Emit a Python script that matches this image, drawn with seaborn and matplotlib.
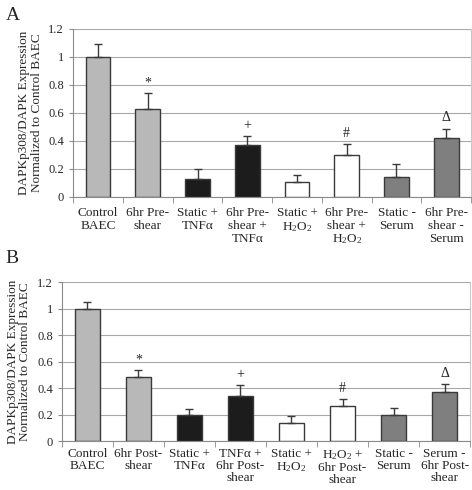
import numpy as np
import pandas as pd
import matplotlib
matplotlib.use("Agg")
import matplotlib.pyplot as plt
import seaborn as sns

# panel A data
labels_a = ["Control\nBAEC", "6hr Pre-\nshear", "Static +\nTNF\u03b1", "6hr Pre-\nshear +\nTNF\u03b1",
            "Static +\nH$_2$O$_2$", "6hr Pre-\nshear +\nH$_2$O$_2$", "Static -\nSerum", "6hr Pre-\nshear -\nSerum"]
values_a = [1.0, 0.63, 0.13, 0.37, 0.11, 0.30, 0.145, 0.42]
errors_a = [0.095, 0.11, 0.07, 0.065, 0.05, 0.077, 0.087, 0.068]
marks_a = ["", "*", "", "+", "", "#", "", "\u0394"]

# panel B data
labels_b = ["Control\nBAEC", "6hr Post-\nshear", "Static +\nTNF\u03b1", "TNF\u03b1 +\n6hr Post-\nshear",
            "Static +\nH$_2$O$_2$", "H$_2$O$_2$ +\n6hr Post-\nshear", "Static -\nSerum", "Serum -\n6hr Post-\nshear"]
values_b = [1.0, 0.48, 0.20, 0.343, 0.137, 0.268, 0.20, 0.368]
errors_b = [0.047, 0.054, 0.043, 0.077, 0.053, 0.052, 0.053, 0.062]
marks_b = ["", "*", "", "+", "", "#", "", "\u0394"]

bar_colors = ["#b8b8b8", "#b8b8b8", "#1c1c1c", "#1c1c1c", "#ffffff", "#ffffff", "#7f7f7f", "#7f7f7f"]

sns.set_style("white")
plt.rcParams['font.family'] = ['Liberation Serif', 'DejaVu Serif']
plt.rcParams['mathtext.fontset'] = 'custom'
plt.rcParams['mathtext.rm'] = 'Liberation Serif'
plt.rcParams['mathtext.default'] = 'regular'

fig = plt.figure(figsize=(4.72, 4.9), dpi=100)
ax_a = fig.add_axes([0.155, 0.598, 0.843, 0.343])
ax_b = fig.add_axes([0.131, 0.100, 0.865, 0.324])


def draw_panel(ax, labels, values, errors, marks, pad, spacing):
    df = pd.DataFrame({'cond': labels, 'val': values})
    sns.barplot(x='cond', y='val', data=df, hue='cond', palette=bar_colors, legend=False,
                width=0.5, edgecolor='#3a3a3a', linewidth=1.0, ax=ax)
    pos = ax.get_xticks()
    ax.errorbar(pos, values, yerr=[np.zeros(len(values)), errors], fmt='none',
                ecolor='#3a3a3a', elinewidth=1.0, capsize=3, capthick=1.0)
    for p, v, e, m in zip(pos, values, errors, marks):
        if m:
            ax.text(p, v + e + 0.03, m, ha='center', va='bottom', fontsize=10)

    ax.set_ylim(0, 1.2)
    ax.set_xlim(-0.5, len(values) - 0.5)
    ax.set_yticks(np.arange(0, 1.21, 0.2))
    ax.set_yticklabels(['0', '0.2', '0.4', '0.6', '0.8', '1', '1.2'])
    ax.yaxis.grid(True, color='#a8a8a8', linewidth=0.8)
    ax.set_axisbelow(True)
    ax.set_xlabel('')
    ax.set_ylabel('DAPKp308/DAPK Expression\nNormalized to Control BAEC', fontsize=9.5, linespacing=1.1)
    ax.set_xticks(pos)
    ax.set_xticklabels(labels, fontsize=9.5, linespacing=spacing)
    ax.set_xticks(np.arange(-0.5, len(values), 1.0), minor=True)
    ax.tick_params(axis='x', which='major', length=0, pad=pad)
    ax.tick_params(axis='x', which='minor', length=4, color='#8a8a8a', direction='out', bottom=True)
    ax.tick_params(axis='y', length=3, color='#8a8a8a', labelsize=9, left=True, direction='out')
    ax.spines['top'].set_visible(False)
    ax.spines['right'].set_color('#c8c8c8')
    ax.spines['left'].set_color('#8a8a8a')
    ax.spines['bottom'].set_color('#8a8a8a')


draw_panel(ax_a, labels_a, values_a, errors_a, marks_a, pad=7, spacing=1.1)
draw_panel(ax_b, labels_b, values_b, errors_b, marks_b, pad=5, spacing=1.0)

fig.text(0.012, 0.985, 'A', fontsize=14, va='top', ha='left')
fig.text(0.012, 0.49, 'B', fontsize=14, va='top', ha='left')

fig.savefig('out.png', dpi=100)
